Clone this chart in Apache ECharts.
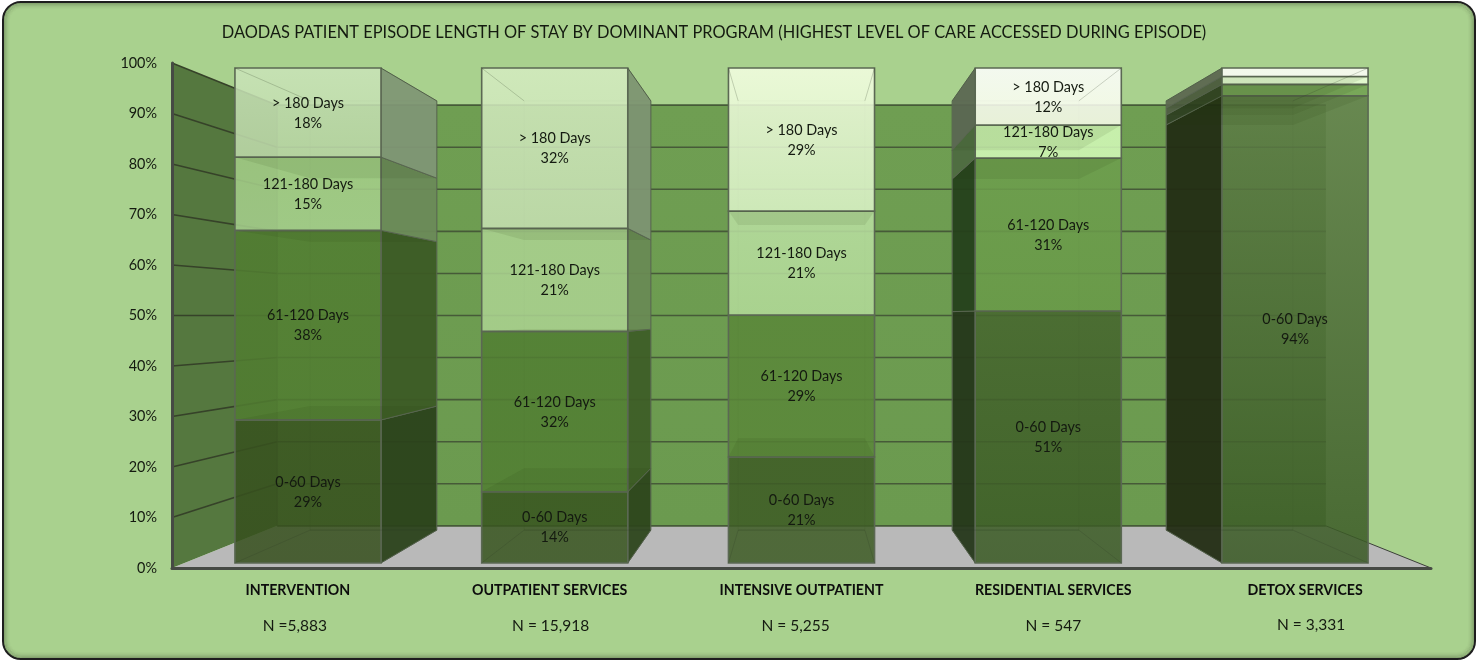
<!DOCTYPE html>
<html>
<head>
<meta charset="utf-8">
<script src="https://cdn.jsdelivr.net/npm/echarts@6/dist/echarts.min.js"></script>
<style>html,body{margin:0;padding:0;background:#fff}#c{width:1478px;height:662px}</style>
</head>
<body>
<div id="c"></div>
<script>
const titleText = 'DAODAS PATIENT EPISODE LENGTH OF STAY BY DOMINANT PROGRAM (HIGHEST LEVEL OF CARE ACCESSED DURING EPISODE)';
const categories = ['INTERVENTION', 'OUTPATIENT SERVICES', 'INTENSIVE OUTPATIENT', 'RESIDENTIAL SERVICES', 'DETOX SERVICES'];
const nLabels = ['N =5,883', 'N = 15,918', 'N = 5,255', 'N = 547', 'N = 3,331'];
const seriesNames = ['0-60 Days', '61-120 Days', '121-180 Days', '> 180 Days'];
const days0to60 = [28.9, 14.4, 21.4, 50.9, 94.4];
const days61to120 = [38.3, 32.4, 28.7, 30.9, 2.3];
const days121to180 = [14.8, 20.8, 21.0, 6.7, 1.6];
const daysOver180 = [18.0, 32.4, 28.9, 11.5, 1.7];
const yTicks = [0, 10, 20, 30, 40, 50, 60, 70, 80, 90, 100];

// Appearance
const PANEL = '#a9d18e', WALL = [107, 155, 79], LEFTWALL = '#55783f', FLOOR = '#b9b9b9';
const FRONT_ALPHA = 0.86, T_FRONT = 0.02, T_BACK = 0.15, T_WALL = 0.167, BAR_RATIO = 0.592;
const frontColors = [
  [['#3e5c25','#3d5a24'],['#558135','#548034'],['#9dc880','#9fc985'],['#bddaaa','#b3d29e']],
  [['#3f5f26','#3f5f26'],['#558236','#558236'],['#a3cb88','#a3cb88'],['#c6e1b1','#bad7a5']],
  [['#44652b','#44652b'],['#5c8a3c','#5c8a3c'],['#afd696','#a9d28f'],['#e2f4ce','#cde8b8']],
  [['#4b6d33','#41632a'],['#6d9e4d','#699a49'],['#c6eeab','#c6eeab'],['#f3f7e8','#e8f5d8']],
  [['#5f8047','#40622a'],['#6f9f50','#6f9f50'],['#d8f0c4','#d8f0c4'],['#eef6e2','#eef6e2']]
];
const sideColors = [
  ['#2b421b','#3c5a24','#6b8a58','#7f9675'],
  ['#2d451c','#3e5d26','#698a54','#7d9472'],
  null,
  ['#24361a','#24401b','#4e6a40','#5a6652'],
  ['#222d13','#2f4022','#4f5c42','#5b6650']
];
function unblend(hex) {
  const n = parseInt(hex.slice(1), 16), c = [n >> 16, (n >> 8) & 255, n & 255];
  const o = c.map((v, i) => Math.max(0, Math.min(255, Math.round((v - (1 - FRONT_ALPHA) * WALL[i]) / FRONT_ALPHA))));
  return 'rgba(' + o.join(',') + ',' + FRONT_ALPHA + ')';
}
function project(p, vp, t) { return [p[0] + (vp[0] - p[0]) * t, p[1] + (vp[1] - p[1]) * t]; }
function poly(points, fill, stroke, lw) {
  return { type: 'polygon', silent: true, shape: { points: points }, style: { fill: fill || 'none', stroke: stroke || 'none', lineWidth: lw || 0 } };
}
function line(a, b, stroke, lw) {
  return { type: 'line', silent: true, shape: { x1: a[0], y1: a[1], x2: b[0], y2: b[1] }, style: { stroke: stroke, lineWidth: lw } };
}

function renderRoom(params, api) {
  const g = params.coordSys, vp = [g.x + g.width / 2, g.y + g.height / 2];
  const L = g.x, R = g.x + g.width, Y0 = api.coord([0, 0])[1], Y1 = api.coord([0, 100])[1];
  const bl = project([L, Y0], vp, T_WALL), br = project([R, Y0], vp, T_WALL);
  const tl = project([L, Y1], vp, T_WALL), tr = project([R, Y1], vp, T_WALL);
  const kids = [
    poly([tl, tr, br, bl], { type: 'linear', x: 0, y: 0, x2: 0, y2: 1, colorStops: [{ offset: 0, color: '#6f9e52' }, { offset: 1, color: '#6b9a4f' }] }),
    poly([[L, Y1], tl, bl, [L, Y0]], LEFTWALL),
    poly([[L, Y0], [R, Y0], br, bl], FLOOR),
    line([R, Y0], br, '#3b3f38', 1)
  ];
  yTicks.forEach(v => {
    const y = api.coord([0, v])[1];
    const a = project([L, y], vp, T_WALL), b = project([R, y], vp, T_WALL);
    kids.push(line(a, b, '#465a38', 1.6));
    if (v > 0) kids.push(line([L, y], a, '#364229', 1.6));
  });
  kids.push(line(tl, bl, '#465a38', 1));
  return { type: 'group', children: kids };
}

function renderBar(params, api) {
  const g = params.coordSys, vp = [g.x + g.width / 2, g.y + g.height / 2];
  const idx = api.value(0), cx = api.coord([idx, 0])[0], hw = api.size([1, 0])[0] * BAR_RATIO / 2;
  const xl = cx - hw, xr = cx + hw;
  const vals = [api.value(1), api.value(2), api.value(3), api.value(4)];
  const edges = [0];
  vals.forEach(v => edges.push(edges[edges.length - 1] + v));
  const ys = edges.map(e => api.coord([idx, e])[1]);
  const F = (x, y) => project([x, y], vp, T_FRONT), B = (x, y) => project([x, y], vp, T_BACK);
  const edge = '#5b6853', faint = 'rgba(45,60,35,0.22)';
  const kids = [];
  const side = sideColors[idx];
  const sx = cx < vp[0] ? xr : xl;
  // translucent outlines of the hidden back box
  kids.push(poly([B(xl, ys[4]), B(xr, ys[4]), B(xr, ys[0]), B(xl, ys[0])], null, faint, 1));
  if (side) {
    vals.forEach((v, s) => {
      kids.push(poly([F(sx, ys[s]), B(sx, ys[s]), B(sx, ys[s + 1]), F(sx, ys[s + 1])], side[s] + 'f0', edge, 1));
    });
  }
  vals.forEach((v, s) => {
    const c = frontColors[idx][s];
    const a = F(xl, ys[s + 1]), b = F(xr, ys[s]);
    kids.push(poly([a, [b[0], a[1]], b, [a[0], b[1]]], {
      type: 'linear', x: 0, y: 0, x2: 0, y2: 1,
      colorStops: [{ offset: 0, color: unblend(c[0]) }, { offset: 1, color: unblend(c[1]) }]
    }, edge, 1.6));
  });
  // boundary planes between the segments (not the very top of the stack) and inner box edges
  edges.slice(1, 4).forEach((e, k) => {
    const y = ys[k + 1];
    kids.push(poly([F(xl, y), F(xr, y), B(xr, y), B(xl, y)], 'rgba(35,60,15,0.09)', null, 0));
  });
  [xl, xr].forEach(x => {
    kids.push(line(F(x, ys[0]), B(x, ys[0]), faint, 1));
    kids.push(line(F(x, ys[4]), B(x, ys[4]), faint, 1));
  });
  kids.push(line(B(xl, ys[0]), B(xr, ys[0]), faint, 1));
  // value labels, centred on each front face
  vals.forEach((v, s) => {
    if (v < 5) return;
    const p = F(cx, (ys[s] + ys[s + 1]) / 2);
    kids.push({
      type: 'text', silent: true,
      style: {
        x: p[0], y: p[1] + 0.5, text: seriesNames[s] + '\n' + Math.round(v) + '%',
        align: 'center', verticalAlign: 'middle', fontSize: 14.4, fontFamily: 'Lato', lineHeight: 20, fill: '#141a10'
      }
    });
  });
  return { type: 'group', children: kids };
}

// Panel with a soft inner edge
const panelEls = [{
  type: 'rect', z: -5, silent: true, shape: { x: 3, y: 2, width: 1472, height: 657, r: 18 },
  style: { fill: PANEL, stroke: '#1e1e1e', lineWidth: 2 }
}];
[0.30, 0.22, 0.15, 0.09, 0.05, 0.02].forEach((a, i) => {
  panelEls.push({
    type: 'rect', z: -4, silent: true,
    shape: { x: 4.5 + i, y: 3.5 + i, width: 1469 - 2 * i, height: 654 - 2 * i, r: 17 - i },
    style: { fill: 'none', stroke: 'rgba(50,60,40,' + a + ')', lineWidth: 1 }
  });
});
const nOffsets = [-3, 1, -6, 0, 6], nY = [625, 625, 625, 625, 624];
const gridLeft = 172, gridWidth = 1259;
nLabels.forEach((t, i) => {
  panelEls.push({
    type: 'text', z: 5, silent: true,
    style: {
      x: gridLeft + gridWidth * (i + 0.5) / categories.length + nOffsets[i], y: nY[i] + 0.5, text: t,
      align: 'center', verticalAlign: 'middle', fontSize: 15.5, fontFamily: 'Lato', fill: '#141a10'
    }
  });
});

const chart = echarts.init(document.getElementById('c'), null, { renderer: 'canvas' });
chart.setOption({
  animation: false,
  backgroundColor: '#ffffff',
  title: {
    text: titleText, left: 709, top: 20, textAlign: 'center',
    textStyle: { fontFamily: 'Lato', fontSize: 16.4, fontWeight: 'normal', color: '#141a10' }
  },
  graphic: panelEls,
  grid: { left: gridLeft, top: 63, width: gridWidth, height: 505 },
  xAxis: {
    type: 'category', data: categories, z: 10,
    axisTick: { show: false },
    axisLine: { lineStyle: { color: '#464a44', width: 3 } },
    axisLabel: { margin: 15, fontFamily: 'Lato', fontSize: 14.2, fontWeight: 'bold', color: '#0d0d0d', interval: 0 }
  },
  yAxis: {
    type: 'value', min: 0, max: 100, interval: 10, z: 10,
    axisTick: { show: false },
    splitLine: { show: false },
    axisLine: { show: true, lineStyle: { color: '#464a44', width: 3 } },
    axisLabel: { margin: 15, formatter: '{value}%', fontFamily: 'Lato', fontSize: 14.4, color: '#141a10' }
  },
  series: [
    { type: 'custom', name: 'room', renderItem: renderRoom, data: [[0, 0]], encode: { x: 0, y: 1 }, silent: true, clip: false, z: 1 },
    {
      type: 'custom', name: 'bars', renderItem: renderBar, silent: true, clip: false, z: 2,
      encode: { x: 0, y: 1 },
      data: categories.map((c, i) => [i, days0to60[i], days61to120[i], days121to180[i], daysOver180[i]])
    }
  ]
});
</script>
</body>
</html>
